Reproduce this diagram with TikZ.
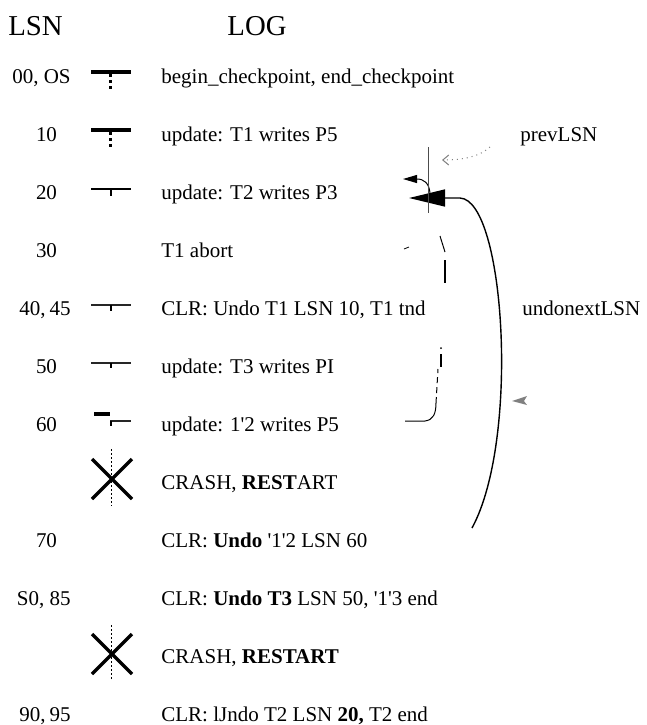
\documentclass[tikz,border=0pt]{standalone}
\usepackage{fontspec}
\setmainfont{Liberation Serif}[Ligatures=TeXOff]
\usetikzlibrary{arrows.meta}
\begin{document}
\begin{tikzpicture}[x=0.5pt,y=-0.5pt,
  txt/.style={anchor=base west,inner sep=0pt,font=\fontsize{10.5}{12}\selectfont},
  lsn/.style={anchor=base,inner sep=0pt,font=\fontsize{10.5}{12}\selectfont},
  lsnw/.style={anchor=base east,inner sep=0pt,font=\fontsize{10.5}{12}\selectfont},
  head/.style={anchor=base,inner sep=0pt,font=\fontsize{14.4}{16}\selectfont},
  thickbar/.style={line width=1.75pt},
  medbar/.style={line width=1pt},
  thinbar/.style={line width=0.75pt,black!85},
  dotv/.style={line width=1.6pt,dash pattern=on 1.5pt off 1.5pt},
  tick/.style={line width=0.7pt},
  crossx/.style={line width=1.6pt},
  crossdot/.style={line width=0.5pt,dash pattern=on 1pt off 1pt},
  conn/.style={line width=0.7pt}]
\useasboundingbox (0,0) rectangle (647,725);

% headers
\node[head] (hlsn) at (35.5,35) {LSN};
\node[head] (hlog) at (257,35) {LOG};

% LSN labels
\node[lsnw] (l0) at (71,83) {00, OS};
\node[lsn] (l1) at (46.5,141) {10};
\node[lsn] (l2) at (46.5,199) {20};
\node[lsn] (l3) at (46.5,257) {30};
\node[lsnw] (l4) at (71,315) {40,\kern2pt45};
\node[lsn] (l5) at (46.5,373) {50};
\node[lsn] (l6) at (46.5,431) {60};
\node[lsn] (l8) at (46.5,547) {70};
\node[lsnw] (l9) at (71,605) {S0, 85};
\node[lsnw] (l11) at (71,721) {90,\kern2pt95};

% log texts
\node[txt] (t0) at (161,83) {begin\_checkpoint, end\_checkpoint};
\node[txt] (t1) at (161,141) {update: T1 writes P5};
\node[txt] (t2) at (161,199) {update: T2 writes P3};
\node[txt] (t3) at (161,257) {T1 abort};
\node[txt] (t4) at (161,315) {CLR: Undo T1 LSN 10, T1 tnd};
\node[txt] (t5) at (161,373) {update: T3 writes PI};
\node[txt] (t6) at (161,431) {update: 1'2 writes P5};
\node[txt] (t7) at (161,489) {CRASH, \textbf{REST}ART};
\node[txt] (t8) at (161,547) {CLR: \textbf{Undo} '1'2 LSN 60};
\node[txt] (t9) at (161,605) {CLR: \textbf{Undo T3} LSN 50, '1'3 end};
\node[txt] (t10) at (161,663) {CRASH, \textbf{RESTART}};
\node[txt] (t11) at (161,721) {CLR: lJndo T2 LSN \textbf{20,} T2 end};

% side labels
\node[txt] (prev) at (520,141) {prevLSN};
\node[txt] (undo) at (522,315) {undonextLSN};

% icons
\draw[thickbar] (91,72)--(131,72);
\draw[dotv] (110.5,74)--(110.5,92);
\draw[thickbar] (91,130)--(131,130);
\draw[dotv] (110.5,132)--(110.5,150);
\draw[medbar] (91,189)--(131,189);
\draw[tick] (111,189)--(111,196);
\draw[thinbar] (91,305)--(131,305);
\draw[tick] (111,305)--(111,311);
\draw[thinbar] (91,363)--(131,363);
\draw[tick] (111,363)--(111,368);
\draw[thickbar] (94,414)--(110,414);
\draw[thinbar] (110,421)--(131,421);
\draw[tick] (111,421)--(111,426);
\draw[crossx] (92,459)--(132,499) (92,499)--(132,459);
\draw[crossdot] (111,449)--(111,506);
\draw[crossx] (92,634)--(132,674) (92,674)--(132,634);
\draw[crossdot] (111,625)--(111,681);

% connectors
\coordinate (a20) at (409,198);
\coordinate (abot) at (472,528);
\draw[conn,-{Triangle[length=18pt,width=8.5pt]}] (abot) .. controls (520,440) and (505,200) .. (460,198) -- (a20);

\coordinate (s1) at (430,193);
\coordinate (s2) at (403,179);
\draw[line width=0.5pt,-{Triangle[length=7pt,width=4pt]}] (s1) .. controls (429,183) and (424,179) .. (s2);

\coordinate (v1) at (428,147);
\coordinate (v2) at (428,213);
\draw[line width=0.4pt,black!70] (v1)--(v2);

\coordinate (p1) at (490,147);
\coordinate (p2) at (442,160);
\draw[black!50,line width=0.5pt,dotted,-{Straight Barb[length=3pt,width=5pt]}] (p1) .. controls (480,156) and (465,160) .. (p2);

\coordinate (d60) at (405,421);
\draw[line width=0.5pt] (d60) -- (425,421) .. controls (433,420) and (436,414) .. (436,403);
\draw[line width=0.5pt,dash pattern=on 3pt off 2pt] (436,403) -- (438,369);
\draw[line width=1pt] (441,354)--(441,367);
\fill (441,348) circle (1);
\draw[line width=1.1pt] (445,260)--(445,283);
\draw[line width=0.5pt] (440,236)--(445,252);
\draw[line width=0.4pt] (404,249)--(409,247);

\fill[black!50] (512,401) -- (527,396) -- (524,401) -- (527,405) -- cycle;
\end{tikzpicture}
\end{document}
